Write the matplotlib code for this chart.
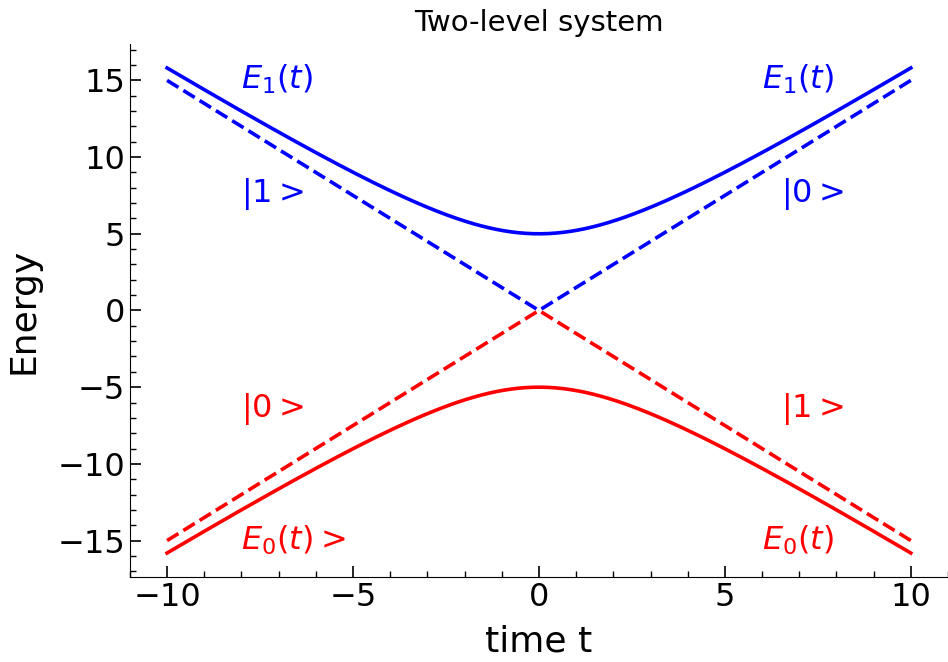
import matplotlib.pyplot as plt
import numpy as np
from matplotlib.ticker import MultipleLocator

# avoided crossing: E = +/- sqrt((slope*t)^2 + gap^2)
gap = 5.0
slope = 1.5
t = np.linspace(-10, 10, 401)

E1 = np.sqrt((slope * t) ** 2 + gap ** 2)
E0 = -E1
diab = np.abs(slope * t)   # uncoupled states |0>, |1>

fig = plt.figure(figsize=(9.48, 6.62), dpi=100)
ax = fig.add_axes([0.137, 0.128, 0.863, 0.806])

ax.plot(t, E0, color='red', lw=2.6)
ax.plot(t, -diab, color='red', lw=2.6, ls='--')
ax.plot(t, E1, color='blue', lw=2.6)
ax.plot(t, diab, color='blue', lw=2.6, ls='--')

fs = 23
ax.text(-8, 15.1, r'$E_1(t)$', color='blue', fontsize=fs, va='center')
ax.text(-8, 7.6, r'$|1>$', color='blue', fontsize=fs, va='center')
ax.text(-8, -6.4, r'$|0>$', color='red', fontsize=fs, va='center')
ax.text(-8, -15.0, r'$E_0(t)>$', color='red', fontsize=fs, va='center')
ax.text(6.0, 15.1, r'$E_1(t)$', color='blue', fontsize=fs, va='center')
ax.text(6.5, 7.6, r'$|0>$', color='blue', fontsize=fs, va='center')
ax.text(6.5, -6.4, r'$|1>$', color='red', fontsize=fs, va='center')
ax.text(6.0, -15.0, r'$E_0(t)$', color='red', fontsize=fs, va='center')

ax.set_title('Two-level system', fontsize=21, pad=9)
ax.set_xlabel('time t', fontsize=26, labelpad=8)
ax.set_ylabel('Energy', fontsize=26, labelpad=12)

ax.spines['top'].set_visible(False)
ax.spines['right'].set_visible(False)
ax.set_xticks([-10, -5, 0, 5, 10])
ax.set_yticks([-15, -10, -5, 0, 5, 10, 15])
ax.xaxis.set_minor_locator(MultipleLocator(1))
ax.yaxis.set_minor_locator(MultipleLocator(1))
ax.tick_params(which='both', direction='in', labelsize=23, top=False, right=False)
ax.tick_params(which='major', length=8, width=1.2)
ax.tick_params(which='minor', length=4, width=1)

fig.savefig('out.png', dpi=100)
